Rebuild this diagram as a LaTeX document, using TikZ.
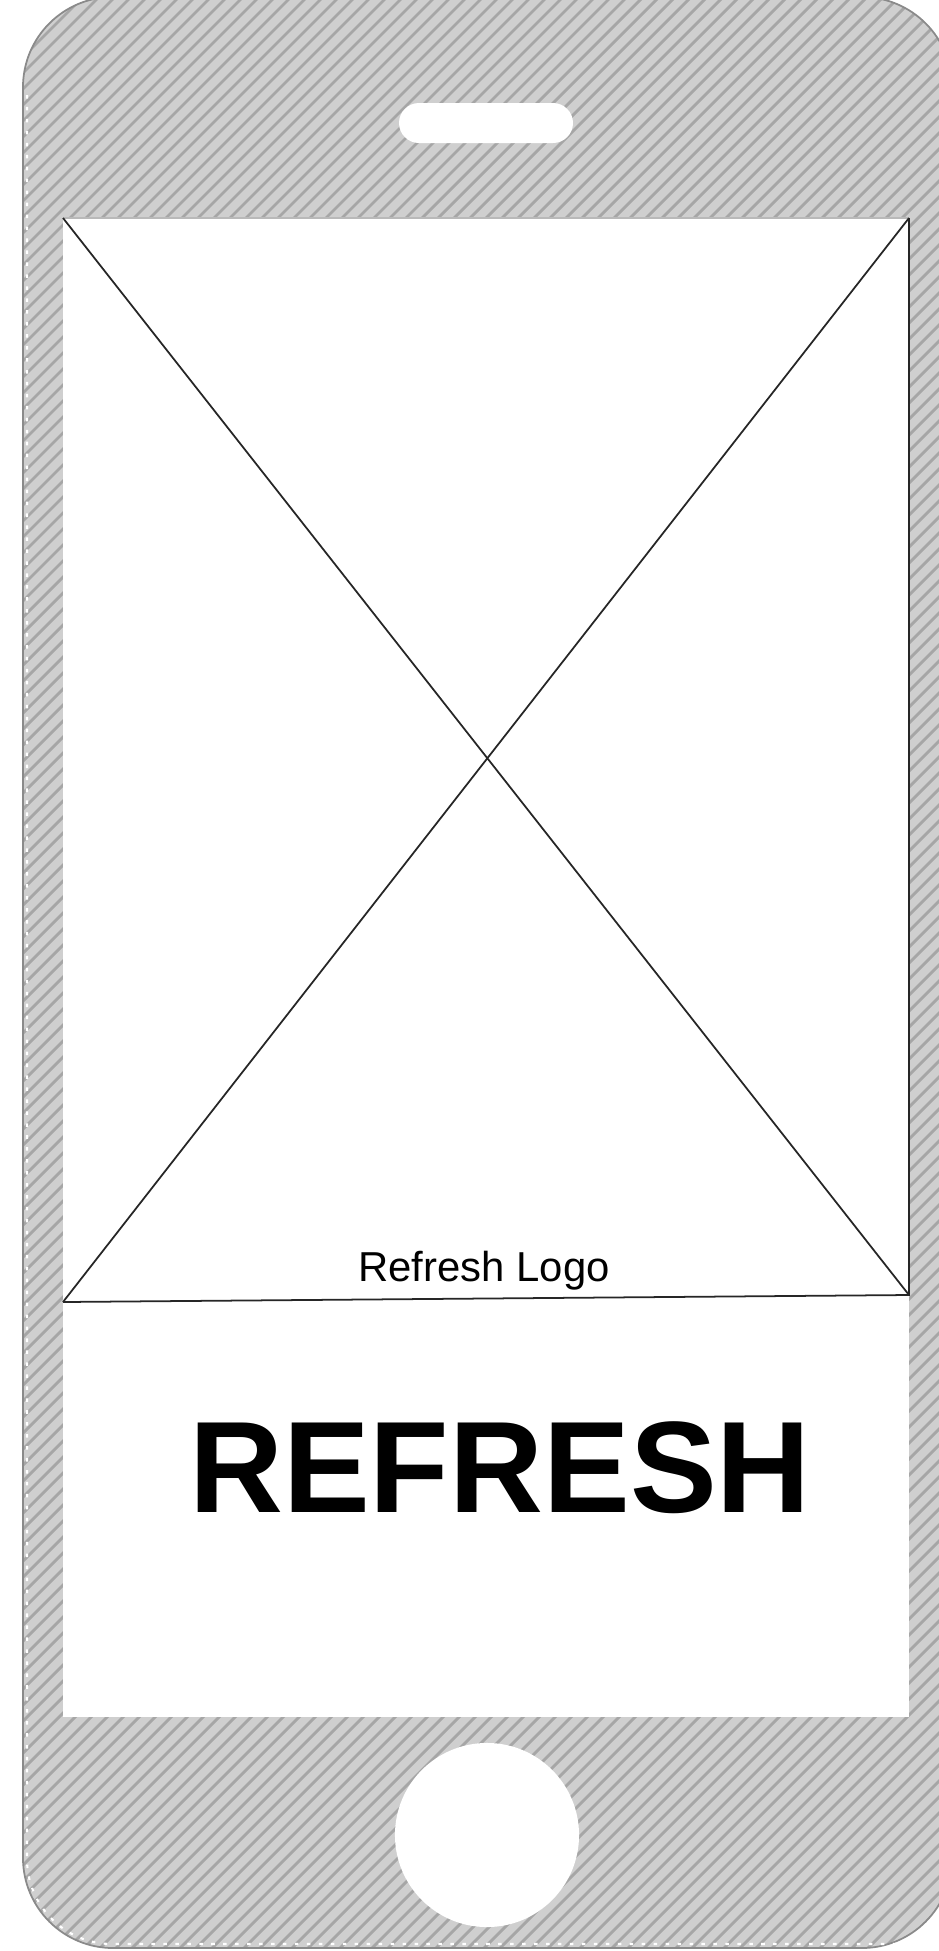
\documentclass[tikz,border=0pt]{standalone}
\usepackage{fontspec}
\setmainfont{Liberation Sans}
\usetikzlibrary{positioning}
\definecolor{bodygray}{HTML}{CFCFCF}
\definecolor{hatchgray}{HTML}{A6A6A6}
\definecolor{edgegray}{HTML}{8A8A8A}
\begin{document}
\begin{tikzpicture}[x=0.01cm,y=-0.01cm,
    wire/.style={line width=0.5pt,black!85},
    apptitle/.style={font=\fontsize{37}{40}\selectfont\bfseries,inner sep=0pt},
    logotext/.style={font=\fontsize{11.9}{14}\selectfont,inner sep=0pt}]
  \useasboundingbox (0,0) rectangle (938,1951);
  \fill[white] (0,0) rectangle (938,1951);
  % phone body with hatching
  \begin{scope}
    \clip[rounded corners=0.9cm] (23,-3) rectangle (952,1948);
    \fill[bodygray] (0,-10) rectangle (960,1960);
    \foreach \i in {-2000,-1984,...,960}
      \draw[hatchgray,line width=0.8pt] (\i,2000) -- ++(2100,-2100);
  \end{scope}
  \draw[edgegray,line width=0.5pt,rounded corners=0.9cm] (23,-3) rectangle (952,1948);
  \draw[white,dash pattern=on 1pt off 2.4pt,line width=0.6pt,rounded corners=0.85cm] (27,95) -- (27,1944) -- (900,1944);
  % speaker and home button
  \fill[white,rounded corners=0.2cm] (399,103) rectangle (573,143);
  \fill[white] (487,1835) circle[radius=0.92cm];
  % screen
  \fill[white] (63,218) rectangle (909,1717);
  \draw[edgegray!60,line width=0.3pt] (63,218) -- (909,218);
  \coordinate (tl) at (63,218);
  \coordinate (tr) at (909,218);
  \coordinate (bl) at (63,1302);
  \coordinate (br) at (909,1295);
  \draw[wire] (tl) -- (br) (tr) -- (bl) (bl) -- (br) -- (tr);
  \node[logotext,anchor=base] (logolabel) at (484,1281) {Refresh Logo};
  \node[apptitle,anchor=base] (title) at (500,1512) {REFRESH};
\end{tikzpicture}
\end{document}
